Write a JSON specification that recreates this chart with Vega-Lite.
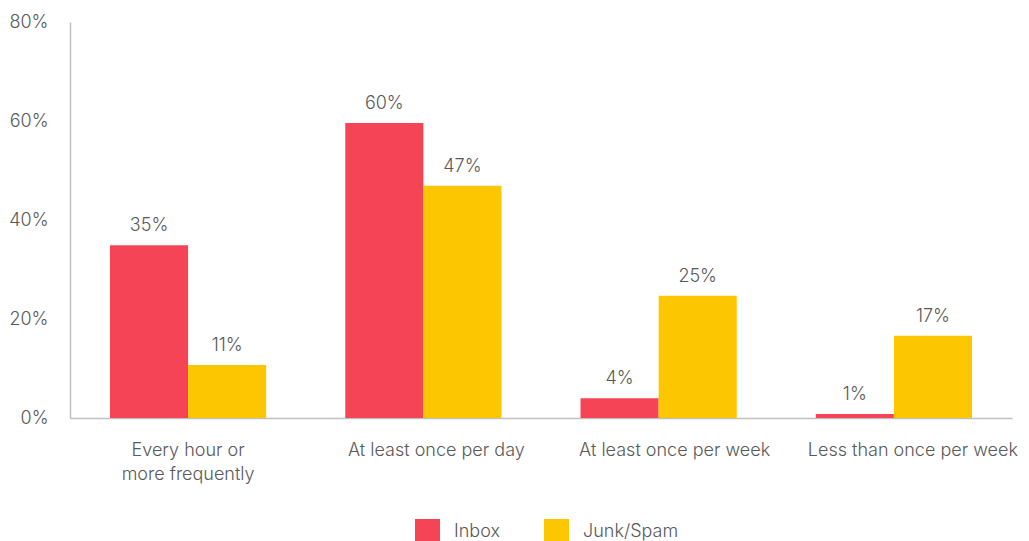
{
  "$schema": "https://vega.github.io/schema/vega-lite/v6.json",
  "width": 942,
  "height": 396,
  "autosize": {"type": "none"},
  "padding": {"left": 70, "top": 22, "right": 17, "bottom": 123},
  "background": "white",
  "config": {
    "view": {"stroke": null},
    "font": "Inter",
    "text": {"font": "Inter"}
  },
  "data": {
    "values": [
      {"frequency": "Every hour or more frequently", "folder": "Inbox", "value": 34.9, "label": "35%"},
      {"frequency": "Every hour or more frequently", "folder": "Junk/Spam", "value": 10.7, "label": "11%"},
      {"frequency": "At least once per day", "folder": "Inbox", "value": 59.6, "label": "60%"},
      {"frequency": "At least once per day", "folder": "Junk/Spam", "value": 46.9, "label": "47%"},
      {"frequency": "At least once per week", "folder": "Inbox", "value": 4.0, "label": "4%"},
      {"frequency": "At least once per week", "folder": "Junk/Spam", "value": 24.7, "label": "25%"},
      {"frequency": "Less than once per week", "folder": "Inbox", "value": 0.8, "label": "1%"},
      {"frequency": "Less than once per week", "folder": "Junk/Spam", "value": 16.6, "label": "17%"}
    ]
  },
  "encoding": {
    "x": {
      "field": "frequency",
      "type": "nominal",
      "sort": null,
      "scale": {"paddingInner": 0.336, "paddingOuter": 0.17},
      "axis": {
        "title": null,
        "labelAngle": 0,
        "ticks": false,
        "domainColor": "#c0c0c0",
        "domainWidth": 1.5,
        "labelFont": "Inter",
        "labelFontSize": 18,
        "labelFontWeight": 300,
        "labelColor": "#595959",
        "labelPadding": 23,
        "labelLineHeight": 24,
        "labelBaseline": "top",
        "labelLimit": 300,
        "labelExpr": "datum.value == 'Every hour or more frequently' ? ['Every hour or', 'more frequently'] : datum.value",
        "labelOffset": {"expr": "datum.value == 'At least once per day' ? 13 : datum.value == 'At least once per week' ? 16 : datum.value == 'Less than once per week' ? 19 : 0"}
      }
    },
    "xOffset": {"field": "folder", "type": "nominal", "scale": {"paddingInner": 0, "paddingOuter": 0}},
    "y": {
      "field": "value",
      "type": "quantitative",
      "scale": {"domain": [0, 80], "nice": false},
      "axis": {
        "title": null,
        "values": [0, 20, 40, 60, 80],
        "labelExpr": "datum.value + '%'",
        "grid": false,
        "ticks": false,
        "domainColor": "#c0c0c0",
        "domainWidth": 1.5,
        "labelFont": "Inter",
        "labelFontSize": 18,
        "labelFontWeight": 300,
        "labelColor": "#595959",
        "labelPadding": 22
      }
    }
  },
  "layer": [
    {
      "mark": {"type": "bar"},
      "encoding": {
        "color": {
          "field": "folder",
          "type": "nominal",
          "scale": {"domain": ["Inbox", "Junk/Spam"], "range": ["#F54456", "#FCC600"]},
          "legend": {
            "title": null,
            "orient": "none",
            "direction": "horizontal",
            "legendX": 345,
            "legendY": 497,
            "symbolType": "square",
            "symbolSize": 625,
            "symbolStrokeWidth": 0,
            "labelFont": "Inter",
            "labelFontSize": 18,
            "labelFontWeight": 300,
            "labelColor": "#595959",
            "labelOffset": 14,
            "columnPadding": 44
          }
        }
      }
    },
    {
      "mark": {"type": "text", "dy": -10, "baseline": "bottom", "fontSize": 18, "fontWeight": 300, "color": "#595959", "font": "Inter"},
      "encoding": {
        "text": {"field": "label"}
      }
    }
  ]
}
